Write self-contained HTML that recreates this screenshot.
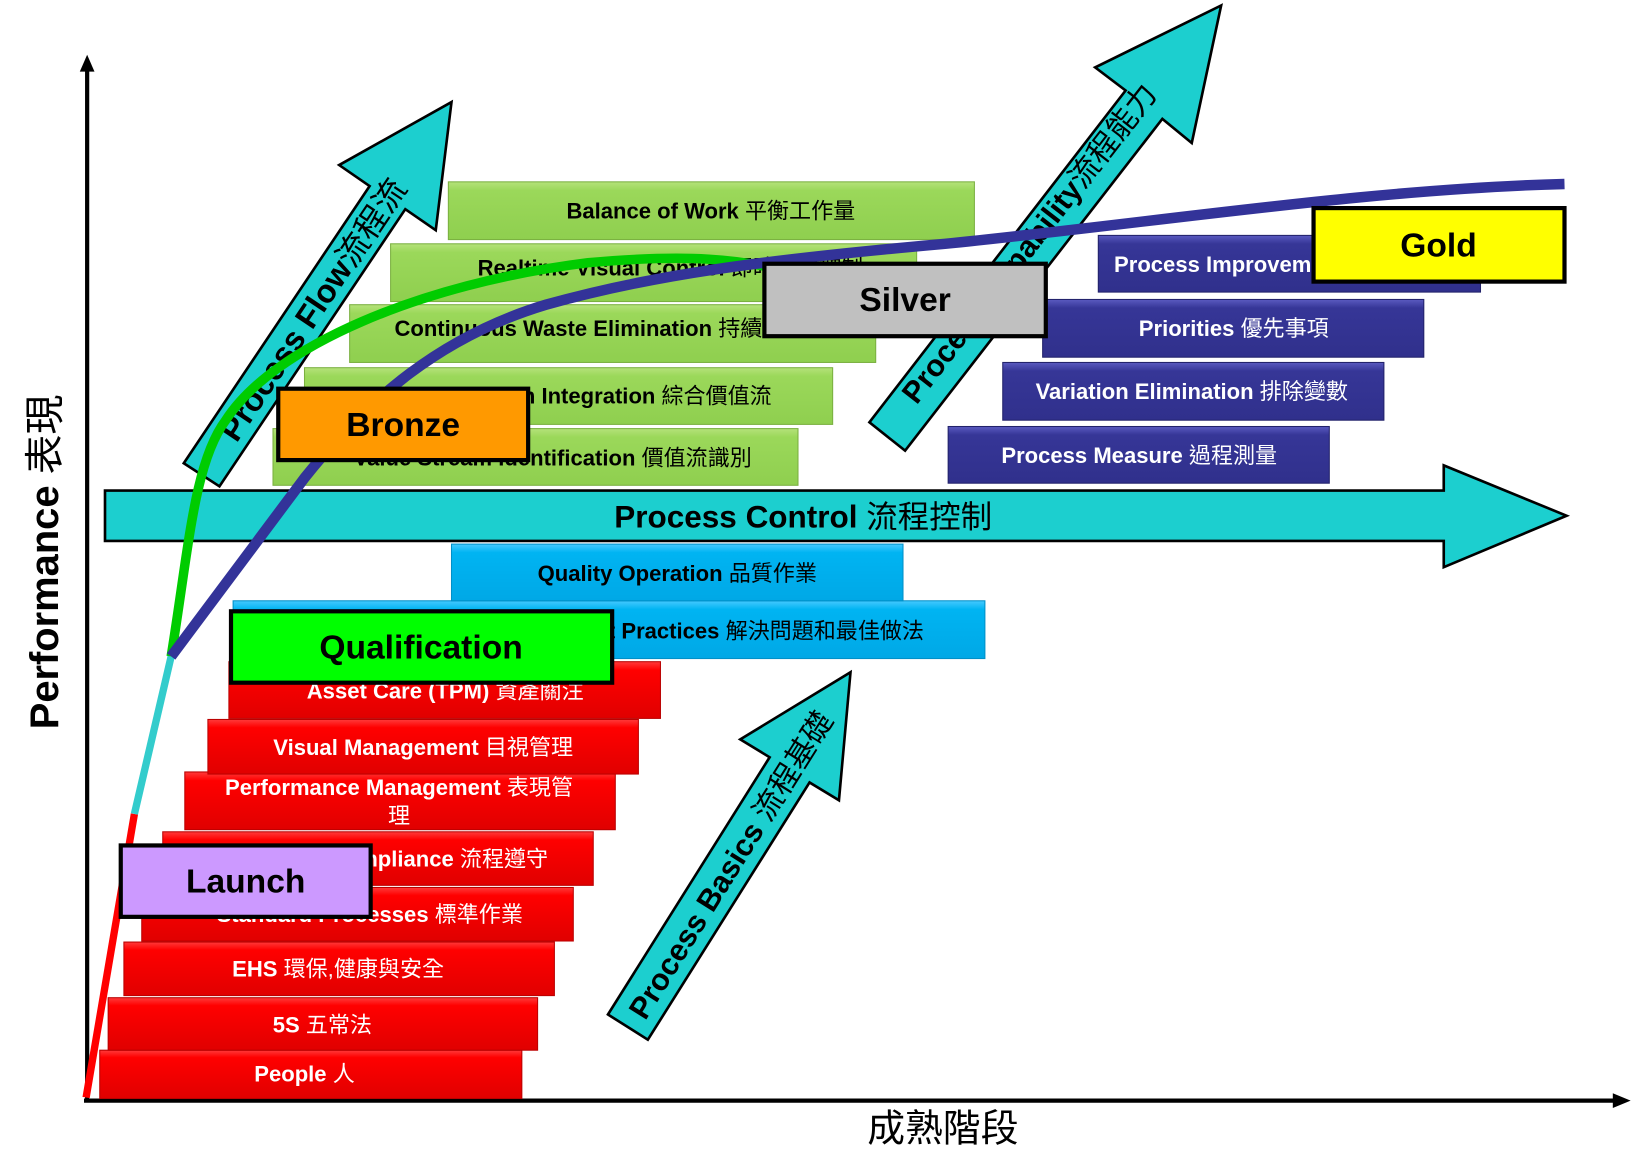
<!DOCTYPE html>
<html><head><meta charset="utf-8"><style>
html,body{margin:0;padding:0;background:#fff;width:1638px;height:1168px;overflow:hidden}
svg{display:block}
text{font-family:"Liberation Sans","Noto Sans CJK TC",sans-serif;font-weight:bold}
tspan.c{font-weight:normal}
.w{fill:#fff;font-size:21px}
.k{fill:#000;font-size:21px}
</style></head><body>
<svg width="1638" height="1168" viewBox="0 0 1560 1112" xmlns="http://www.w3.org/2000/svg">
<defs>
<linearGradient id="r" x1="0" y1="0" x2="0" y2="1"><stop offset="0" stop-color="#ff3a3a"/><stop offset="0.15" stop-color="#f00"/><stop offset="1" stop-color="#e00000"/></linearGradient>
<linearGradient id="g" x1="0" y1="0" x2="0" y2="1"><stop offset="0" stop-color="#b5e27a"/><stop offset="0.15" stop-color="#9bd85a"/><stop offset="1" stop-color="#8fcf4f"/></linearGradient>
<linearGradient id="n" x1="0" y1="0" x2="0" y2="1"><stop offset="0" stop-color="#5a5ac0"/><stop offset="0.15" stop-color="#363697"/><stop offset="1" stop-color="#30308c"/></linearGradient>
<linearGradient id="c" x1="0" y1="0" x2="0" y2="1"><stop offset="0" stop-color="#45c9ff"/><stop offset="0.15" stop-color="#00b4f2"/><stop offset="1" stop-color="#00a8e6"/></linearGradient>
</defs>
<line x1="83" y1="1048" x2="83" y2="66" stroke="#000" stroke-width="4"/>
<polygon points="76,68 90,68 83,52" fill="#000"/>
<line x1="80" y1="1048" x2="1538" y2="1048" stroke="#000" stroke-width="4"/>
<polygon points="1536,1041 1536,1055 1553,1048" fill="#000"/>
<text x="45" y="535" transform="rotate(-90 45 535)" text-anchor="middle" dominant-baseline="middle" style="font-size:38px;fill:#000">Performance <tspan class="c">表現</tspan></text>
<text x="898" y="1087" text-anchor="middle" style="font-size:36px;font-weight:normal;fill:#000">成熟階段</text>

<g stroke="#b00" stroke-width="1">
<rect x="95" y="1000" width="402" height="46" fill="url(#r)"/>
<rect x="103" y="950" width="409" height="50" fill="url(#r)"/>
<rect x="118" y="897" width="410" height="51" fill="url(#r)"/>
<rect x="135" y="845" width="411" height="51" fill="url(#r)"/>
<rect x="155" y="792" width="410" height="51" fill="url(#r)"/>
<rect x="176" y="735" width="410" height="55" fill="url(#r)"/>
<rect x="198" y="685" width="410" height="52" fill="url(#r)"/>
<rect x="218" y="630" width="411" height="54" fill="url(#r)"/>
</g>
<text class="w" x="290" y="1030" text-anchor="middle">People <tspan class="c">人</tspan></text>
<text class="w" x="307" y="983" text-anchor="middle">5S <tspan class="c">五常法</tspan></text>
<text class="w" x="322" y="930" text-anchor="middle">EHS <tspan class="c">環保,健康與安全</tspan></text>
<text class="w" x="498" y="878" text-anchor="end">Standard Processes <tspan class="c">標準作業</tspan></text>
<text class="w" x="522" y="825" text-anchor="end">Process Compliance <tspan class="c">流程遵守</tspan></text>
<text class="w" x="380" y="757" text-anchor="middle">Performance Management <tspan class="c">表現管</tspan></text>
<text class="w" x="380" y="784" text-anchor="middle"><tspan class="c">理</tspan></text>
<text class="w" x="403" y="719" text-anchor="middle">Visual Management <tspan class="c">目視管理</tspan></text>
<text class="w" x="424" y="665" text-anchor="middle">Asset Care (TPM) <tspan class="c">資產關注</tspan></text>

<g stroke="#0090c8" stroke-width="1">
<rect x="222" y="572" width="716" height="55" fill="url(#c)"/>
<rect x="430" y="518" width="430" height="54" fill="url(#c)"/>
</g>
<text class="k" x="880" y="608" text-anchor="end">Problem Solving &amp; Best Practices <tspan class="c">解決問題和最佳做法</tspan></text>
<text class="k" x="645" y="553" text-anchor="middle">Quality Operation <tspan class="c">品質作業</tspan></text>

<g stroke="#7ab040" stroke-width="1">
<rect x="260" y="408" width="500" height="54" fill="url(#g)"/>
<rect x="290" y="350" width="503" height="54" fill="url(#g)"/>
<rect x="333" y="290" width="501" height="55" fill="url(#g)"/>
<rect x="372" y="232" width="501" height="55" fill="url(#g)"/>
<rect x="427" y="173" width="501" height="55" fill="url(#g)"/>
</g>
<text class="k" x="716" y="443" text-anchor="end">Value Stream Identification <tspan class="c">價值流識別</tspan></text>
<text class="k" x="735" y="384" text-anchor="end">Value Stream Integration <tspan class="c">綜合價值流</tspan></text>
<text class="k" x="810" y="320" text-anchor="end">Continuous Waste Elimination <tspan class="c">持續消除浪費</tspan></text>
<text class="k" x="822" y="262" text-anchor="end">Realtime Visual Control <tspan class="c">即時目視控制</tspan></text>
<text class="k" x="677" y="208" text-anchor="middle">Balance of Work <tspan class="c">平衡工作量</tspan></text>

<g stroke="#22226a" stroke-width="1">
<rect x="903" y="406" width="363" height="54" fill="url(#n)"/>
<rect x="955" y="345" width="363" height="55" fill="url(#n)"/>
<rect x="993" y="285" width="363" height="55" fill="url(#n)"/>
<rect x="1046" y="224" width="364" height="54" fill="url(#n)"/>
</g>
<text class="w" x="1085" y="441" text-anchor="middle">Process Measure <tspan class="c">過程測量</tspan></text>
<text class="w" x="1135" y="380" text-anchor="middle">Variation Elimination <tspan class="c">排除變數</tspan></text>
<text class="w" x="1175" y="320" text-anchor="middle">Priorities <tspan class="c">優先事項</tspan></text>
<text class="w" x="1061" y="259">Process Improvement <tspan class="c">流程改善</tspan></text>

<polygon points="100,467 1375,467 1375,443 1492,491 1375,540 1375,515 100,515" fill="#1ccfcf" stroke="#000" stroke-width="2.5"/>
<text x="765" y="502" text-anchor="middle" style="font-size:30px;fill:#000">Process Control <tspan class="c">流程控制</tspan></text>

<polygon points="175,441 352,177 323,157 430,97 415,219 386,199 209,463" fill="#1ccfcf" stroke="#000" stroke-width="2.5"/>
<text x="300" y="296" transform="rotate(-56.2 300 296)" text-anchor="middle" dominant-baseline="middle" style="font-size:31px;fill:#000">Process Flow<tspan class="c">流程流</tspan></text>
<polygon points="828,402 1072,86 1043,64 1163,5 1135,136 1107,113 862,429" fill="#1ccfcf" stroke="#000" stroke-width="2.5"/>
<text x="982" y="233" transform="rotate(-52.2 982 233)" text-anchor="middle" dominant-baseline="middle" style="font-size:29px;fill:#000">Process Capability<tspan class="c">流程能力</tspan></text>
<polygon points="579,966 733,721 705,704 810,640 799,762 771,745 617,990" fill="#1ccfcf" stroke="#000" stroke-width="2.5"/>
<text x="698" y="825" transform="rotate(-57.9 698 825)" text-anchor="middle" dominant-baseline="middle" style="font-size:29px;fill:#000">Process Basics <tspan class="c">流程基礎</tspan></text>

<line x1="82" y1="1045" x2="128" y2="775" stroke="#f00" stroke-width="7"/>
<line x1="128" y1="775" x2="163" y2="625" stroke="#33cccc" stroke-width="7"/>
<path d="M163,625 C180,520 185,440 215,400 C260,330 400,270 560,250 C650,242 710,245 760,262" fill="none" stroke="#00cc00" stroke-width="9"/>
<path d="M163,625 L290,455 C350,380 420,320 520,290 C620,262 720,248 900,232 C1100,212 1300,180 1490,175" fill="none" stroke="#333399" stroke-width="10"/>

<g stroke="#000" stroke-width="4">
<rect x="115" y="805" width="238" height="68" fill="#cc99ff"/>
<rect x="220" y="582" width="363" height="68" fill="#00ff00"/>
<rect x="265" y="370" width="238" height="68" fill="#ff9900"/>
<rect x="728" y="251" width="268" height="69" fill="#c0c0c0"/>
<rect x="1251" y="198" width="239" height="70" fill="#ffff00"/>
</g>
<g style="font-size:32px;fill:#000" text-anchor="middle">
<text x="234" y="850">Launch</text>
<text x="401" y="627">Qualification</text>
<text x="384" y="415">Bronze</text>
<text x="862" y="296">Silver</text>
<text x="1370" y="244">Gold</text>
</g>
</svg>
</body></html>
